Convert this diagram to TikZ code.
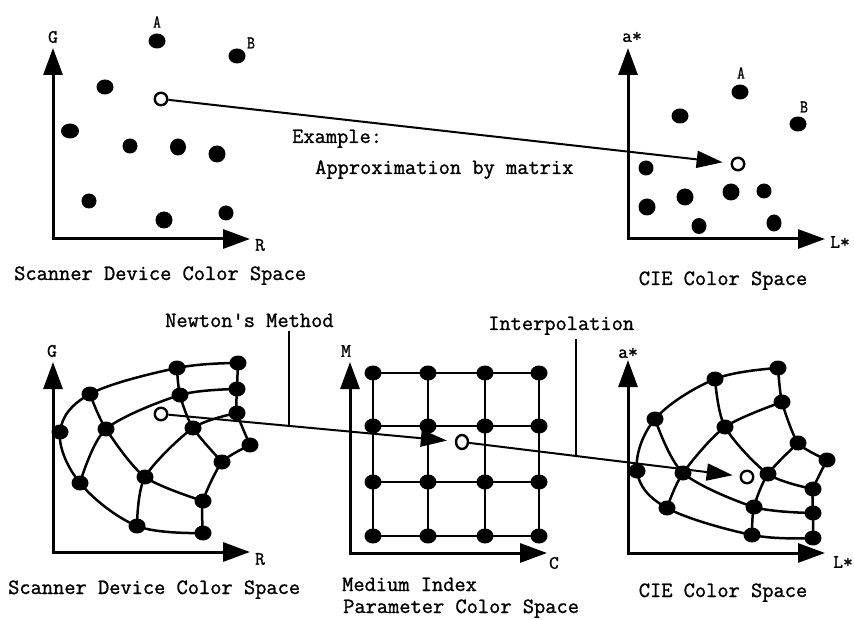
\documentclass[tikz,border=0pt]{standalone}
\usepackage{fontspec}
\newfontfamily\labelfont{Latin Modern Mono}[FakeBold=1.2]
\usetikzlibrary{arrows.meta,shapes.geometric,calc}
\begin{document}
\begin{tikzpicture}[x=1pt,y=-1pt,
  axis/.style={line width=3pt,-{Triangle[length=27pt,width=19pt]}},
  link/.style={line width=2pt,-{Triangle[length=26pt,width=17pt]}},
  mesh/.style={line width=2.5pt},
  leader/.style={line width=2pt},
  dot/.style={ellipse,fill=black,inner sep=0pt,minimum width=17pt,minimum height=15pt},
  hollow/.style={circle,draw,line width=2.4pt,fill=white,inner sep=0pt,minimum size=12.5pt},
  txt/.style={inner sep=0pt,font=\labelfont\fontsize{21.8}{26}\selectfont},
  lbl/.style={inner sep=0pt,font=\labelfont\fontsize{19}{22}\selectfont},
  sml/.style={inner sep=0pt,xscale=0.85,font=\labelfont\fontsize{18}{21}\selectfont}]
\useasboundingbox (0,0) rectangle (854,620);

% ---------- top left: scanner space with scattered samples ----------
\coordinate (tlo) at (53,239);
\coordinate (tly) at (53,48);
\coordinate (tlx) at (250,239);
\draw[axis] (tlo) -- (tly);
\draw[axis] ($(tlo)+(-1.5,0)$) -- (tlx);
\node[lbl] (tlG) at (53,37) {G};
\node[lbl] (tlR) at (260,245) {R};
\node[sml] (tlA) at (157,22) {A};
\node[sml] (tlB) at (251,43) {B};
\node[dot] (s1) at (157,41) {};
\node[dot] (s2) at (237,56) {};
\node[dot] (s3) at (105,87) {};
\node[dot,minimum width=18pt] (s4) at (70,131) {};
\node[dot,minimum width=15pt] (s5) at (130,146) {};
\node[dot,minimum width=16pt,minimum height=17pt] (s6) at (178,147) {};
\node[dot,minimum height=17pt] (s7) at (217,154) {};
\node[dot,minimum width=15pt] (s8) at (89,201) {};
\node[dot,minimum height=17pt] (s9) at (164,220) {};
\node[dot,minimum width=15pt] (s10) at (226,213) {};
\node[hollow] (ot1) at (161,99) {};
\node[txt,anchor=base west] (caption1) at (14,280) {Scanner Device Color Space};

% ---------- top right: CIE space ----------
\coordinate (tro) at (628,239);
\coordinate (try) at (628,48);
\coordinate (trx) at (825,239);
\draw[axis] (tro) -- (try);
\draw[axis] ($(tro)+(-1.5,0)$) -- (trx);
\node[lbl] (trA*) at (632,37) {a*};
\node[lbl] (trL*) at (840,242) {L*};
\node[sml] (trA) at (741,73) {A};
\node[sml] (trB) at (804,107) {B};
\node[dot] (c1) at (740,92) {};
\node[dot] (c2) at (798,124) {};
\node[dot] (c3) at (680,116) {};
\node[dot,minimum width=15pt] (c4) at (646,168) {};
\node[dot,minimum height=17pt] (c5) at (647,207) {};
\node[dot,minimum height=17pt] (c6) at (685,197) {};
\node[dot,minimum height=17pt] (c7) at (731,192) {};
\node[dot,minimum width=15pt] (c8) at (764,191) {};
\node[dot,minimum width=15pt,minimum height=16pt] (c9) at (699,226) {};
\node[dot,minimum width=15pt,minimum height=17pt] (c10) at (774,223) {};
\node[hollow] (ot2) at (738,164) {};
\node[txt,anchor=base] (caption2) at (723,285) {CIE Color Space};

\node[txt,anchor=base west] (example) at (292,143) {Example:};
\node[txt,anchor=base west] (matrix) at (315,174) {Approximation by matrix};
\draw[link,shorten >=8pt] (ot1) -- (ot2);

% ---------- bottom left: scanner space with curved mesh ----------
\coordinate (blo) at (53,552);
\coordinate (bly) at (53,362);
\coordinate (blx) at (250,552);
\draw[axis] (blo) -- (bly);
\draw[axis] ($(blo)+(-1.5,0)$) -- (blx);
\node[lbl] (blG) at (52,351) {G};
\node[lbl] (blR) at (260,559) {R};

\foreach \n/\x/\y in {00/60/432,10/90/394,20/177/368,30/238/363,
                      01/80/483,11/106/429,21/180/395,31/237/389,
                      02/137/526,12/145/477,22/193/428,32/237/413,
                      03/203/533,13/203/501,23/222/462,33/250/445}
  \coordinate (p\n) at (\x,\y);
\draw[mesh] plot[smooth,tension=0.6] coordinates {(p30) (p20) (p10) (p00) (p01) (p02) (p03)};
\draw[mesh] plot[smooth,tension=0.5] coordinates {(p01) (p11) (p21) (p31)};
\draw[mesh] plot[smooth,tension=0.5] coordinates {(p02) (p12) (p22) (p32)};
\draw[mesh] plot[smooth,tension=0.4] coordinates {(p03) (p13) (p23) (p33)};
\draw[mesh] plot[smooth,tension=0.5] coordinates {(p10) (p11) (p12) (p13)};
\draw[mesh] plot[smooth,tension=0.5] coordinates {(p20) (p21) (p22) (p23)};
\draw[mesh] plot[smooth,tension=0.4] coordinates {(p30) (p31) (p32) (p33)};
\foreach \n in {00,10,20,30,01,11,21,31,02,12,22,32,03,13,23,33}
  \node[dot] (q\n) at (p\n) {};
\node[hollow] (ob1) at (161,414) {};
\node[txt,anchor=base west] (caption3) at (8,594) {Scanner Device Color Space};

% ---------- bottom middle: regular parameter grid ----------
\coordinate (bmo) at (350,553);
\coordinate (bmy) at (350,362);
\coordinate (bmx) at (547,553);
\draw[axis] (bmo) -- (bmy);
\draw[axis] ($(bmo)+(-1.5,0)$) -- (bmx);
\node[lbl] (bmM) at (346,351) {M};
\node[lbl] (bmC) at (554,563) {C};
\foreach \i/\x in {0/373,1/428,2/485,3/539}
  \foreach \j/\y in {0/536,1/482,2/426,3/373}
    \coordinate (g\i\j) at (\x,\y);
\foreach \j in {0,1,2,3} \draw[mesh] (g0\j) -- (g3\j);
\foreach \i in {0,1,2,3} \draw[mesh] (g\i0) -- (g\i3);
\foreach \i in {0,1,2,3}
  \foreach \j in {0,1,2,3}
    \node[dot] (h\i\j) at (g\i\j) {};
\node[hollow,minimum width=12pt,minimum height=14pt,ellipse] (ob2) at (462,442) {};
\node[txt,anchor=base west] (caption4a) at (342,591) {Medium Index};
\node[txt,anchor=base west] (caption4b) at (343,613) {Parameter Color Space};

% ---------- bottom right: CIE space with curved mesh ----------
\coordinate (bro) at (628,553);
\coordinate (bry) at (628,360);
\coordinate (brx) at (825,553);
\draw[axis] (bro) -- (bry);
\draw[axis] ($(bro)+(-1.5,0)$) -- (brx);
\node[lbl] (brA*) at (628,353) {a*};
\node[lbl] (brL*) at (843,562) {L*};
\foreach \n/\x/\y in {00/637/471,10/655/419,20/715/379,30/778/368,
                      01/667/508,11/683/473,21/725/427,31/782/402,
                      02/752/535,12/754/507,22/768/474,32/798/443,
                      03/813/538,13/813/513,23/813/489,33/827/460}
  \coordinate (r\n) at (\x,\y);
\draw[mesh] plot[smooth,tension=0.6] coordinates {(r30) (r20) (r10) (r00) (r01) (r02) (r03)};
\draw[mesh] plot[smooth,tension=0.5] coordinates {(r01) (r11) (r21) (r31)};
\draw[mesh] plot[smooth,tension=0.5] coordinates {(r02) (r12) (r22) (r32)};
\draw[mesh] plot[smooth,tension=0.3] coordinates {(r03) (r13) (r23) (r33)};
\draw[mesh] plot[smooth,tension=0.5] coordinates {(r10) (r11) (r12) (r13)};
\draw[mesh] plot[smooth,tension=0.5] coordinates {(r20) (r21) (r22) (r23)};
\draw[mesh] plot[smooth,tension=0.4] coordinates {(r30) (r31) (r32) (r33)};
\foreach \n in {00,10,20,30,01,11,21,31,02,12,22,32,03,13,23,33}
  \node[dot] (k\n) at (r\n) {};
\node[hollow] (ob3) at (747,477) {};
\node[txt,anchor=base] (caption5) at (723,597) {CIE Color Space};

% ---------- mapping arrows and method labels ----------
\draw[link,shorten >=8pt] (ob1) -- (ob2);
\draw[link,shorten >=7pt] (ob2) -- (ob3);
\node[txt,anchor=base west] (newton) at (165,327) {Newton's Method};
\node[txt,anchor=base west] (interp) at (488,330) {Interpolation};
\coordinate (nfoot) at ($(ob1)!0.425!(ob2)$);
\coordinate (ifoot) at ($(ob2)!0.40!(ob3)$);
\draw[leader] (nfoot) -- ($(nfoot |- newton.south)+(0,4)$);
\draw[leader] (ifoot) -- ($(ifoot |- interp.south)+(0,4)$);
\end{tikzpicture}
\end{document}
